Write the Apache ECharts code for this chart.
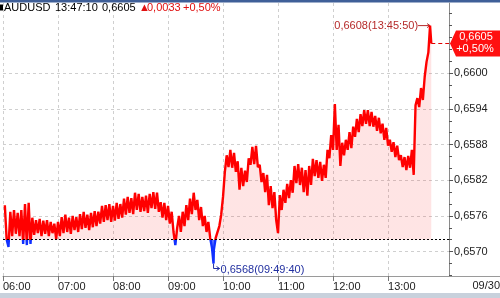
<!DOCTYPE html>
<html><head><meta charset="utf-8">
<script src="https://cdn.jsdelivr.net/npm/echarts@6/dist/echarts.min.js"></script>
<style>html,body{margin:0;padding:0;background:#fff;overflow:hidden}#c{width:500px;height:298px}</style>
</head><body><div id="c"></div>
<script>
// ---- data ----
const symbolName = 'AUDUSD';
const dateLabel = '09/30';
const prevClose = 0.6572;
const times = [
'06:02','06:04','06:06','06:08','06:10','06:12','06:14','06:16','06:18','06:20','06:22','06:24','06:26','06:28','06:30','06:32','06:34','06:36','06:38','06:40','06:42','06:44','06:46','06:48','06:50','06:52','06:54','06:56','06:58',
'07:00','07:02','07:04','07:06','07:08','07:10','07:12','07:14','07:16','07:18','07:20','07:22','07:24','07:26','07:28','07:30','07:32','07:34','07:36','07:38','07:40','07:42','07:44','07:46','07:48','07:50','07:52','07:54','07:56','07:58',
'08:00','08:02','08:04','08:06','08:08','08:10','08:12','08:14','08:16','08:18','08:20','08:22','08:24','08:26','08:28','08:30','08:32','08:34','08:36','08:38','08:40','08:42','08:44','08:46','08:48','08:50','08:52','08:54','08:56','08:58',
'09:00','09:02','09:04','09:06','09:08','09:10','09:12','09:14','09:16','09:18','09:20','09:22','09:24','09:26','09:28','09:30','09:32','09:34','09:36','09:38','09:40','09:42','09:44','09:46','09:48','09:49:40','09:50','09:52','09:54','09:56','09:58',
'10:00','10:02','10:04','10:06','10:08','10:10','10:12','10:14','10:16','10:18','10:20','10:22','10:24','10:26','10:28','10:30','10:32','10:34','10:36','10:38','10:40','10:42','10:44','10:46','10:48','10:50','10:52','10:54','10:56','10:58',
'11:00','11:02','11:04','11:06','11:08','11:10','11:12','11:14','11:16','11:18','11:20','11:22','11:24','11:26','11:28','11:30','11:32','11:34','11:36','11:38','11:40','11:42','11:44','11:46','11:48','11:50','11:52','11:54','11:56','11:58',
'12:00','12:02','12:04','12:06','12:08','12:10','12:12','12:14','12:16','12:18','12:20','12:22','12:24','12:26','12:28','12:30','12:32','12:34','12:36','12:38','12:40','12:42','12:44','12:46','12:48','12:50','12:52','12:54','12:56','12:58',
'13:00','13:02','13:04','13:06','13:08','13:10','13:12','13:14','13:16','13:18','13:20','13:22','13:24','13:26','13:28','13:30','13:32','13:34','13:36','13:38','13:40','13:42','13:44','13:45:50','13:47:10'
];
const prices = [
0.65778,0.65720,0.65708,0.65767,0.65726,0.65770,0.65730,0.65765,0.65726,0.65770,0.65713,0.65780,0.65711,0.65782,0.65713,0.65757,0.65728,0.65753,0.65731,0.65755,0.65726,0.65752,0.65730,0.65753,0.65726,0.65750,0.65731,0.65747,0.65721,
0.65750,0.65726,0.65758,0.65731,0.65762,0.65733,0.65757,0.65730,0.65760,0.65736,0.65758,0.65733,0.65763,0.65738,0.65767,0.65740,0.65762,0.65736,0.65765,0.65741,0.65768,0.65743,0.65767,0.65747,0.65777,0.65750,0.65778,0.65753,0.65780,0.65750,
0.65777,0.65752,0.65782,0.65755,0.65780,0.65757,0.65789,0.65762,0.65792,0.65765,0.65790,0.65763,0.65799,0.65770,0.65797,0.65767,0.65792,0.65768,0.65794,0.65765,0.65797,0.65773,0.65800,0.65772,0.65799,0.65767,0.65783,0.65757,0.65782,0.65753,
0.65777,0.65747,0.65767,0.65733,0.65711,0.65740,0.65760,0.65733,0.65767,0.65743,0.65778,0.65753,0.65789,0.65763,0.65799,0.65770,0.65787,0.65753,0.65775,0.65743,0.65760,0.65733,0.65750,0.65723,0.65706,0.65680,0.65703,0.65723,0.65726,0.65743,0.65762,
0.65792,0.65834,0.65862,0.65842,0.65871,0.65841,0.65866,0.65834,0.65852,0.65804,0.65841,0.65810,0.65836,0.65817,0.65857,0.65846,0.65876,0.65847,0.65878,0.65842,0.65846,0.65817,0.65832,0.65800,0.65829,0.65778,0.65810,0.65773,0.65800,0.65753,
0.65731,0.65795,0.65770,0.65804,0.65782,0.65814,0.65790,0.65820,0.65799,0.65844,0.65815,0.65847,0.65812,0.65841,0.65800,0.65837,0.65794,0.65844,0.65812,0.65856,0.65827,0.65854,0.65824,0.65851,0.65819,0.65846,0.65824,0.65871,0.65857,0.65896,
0.65871,0.65948,0.65871,0.65913,0.65844,0.65883,0.65862,0.65888,0.65871,0.65901,0.65874,0.65910,0.65893,0.65923,0.65901,0.65931,0.65911,0.65938,0.65915,0.65938,0.65911,0.65935,0.65910,0.65928,0.65903,0.65925,0.65899,0.65915,0.65888,0.65908,
0.65878,0.65888,0.65868,0.65884,0.65859,0.65878,0.65854,0.65862,0.65842,0.65859,0.65837,0.65861,0.65841,0.65871,0.65829,0.65946,0.65958,0.65943,0.65975,0.65955,0.65994,0.66019,0.66035,0.66080,0.66050
];
const xTickLabels = ['06:00','07:00','08:00','09:00','10:00','11:00','12:00','13:00'];
const yTickLabels = [0.6570, 0.6576, 0.6582, 0.6588, 0.6594, 0.6600];
const yMinorTicks = [0.6566,0.6568,0.6570,0.6572,0.6574,0.6576,0.6578,0.6580,0.6582,0.6584,0.6586,0.6588,0.6590,0.6592,0.6594,0.6596,0.6598,0.6600,0.6602,0.6604,0.6606,0.6608,0.6610];

// ---- helpers ----
const FONT = '"Liberation Sans",Arial,sans-serif';
const FS = 11;
const toMin = t => { const p = t.split(':').map(Number); return p[0]*60 + p[1] + (p[2]||0)/60; };
const fmt = v => v.toFixed(4).replace('.', ',');
const n = Math.min(times.length, prices.length);
const seriesData = [];
for (let i = 0; i < n; i++) seriesData.push([toMin(times[i]), prices[i]]);
const xTickValues = xTickLabels.map(toMin);
const xMin = 360, xMax = 846.5;
const yMin = 0.65659, yMax = 0.66118;

let iMax = 0, iMin = 0;
for (let i = 0; i < n; i++) { if (prices[i] > prices[iMax]) iMax = i; if (prices[i] < prices[iMin]) iMin = i; }
const last = prices[n-1];
const chg = last - prevClose;
const pct = chg / prevClose * 100;
const pctTxt = (pct >= 0 ? '+' : '-') + Math.abs(pct).toFixed(2).replace('.', ',') + '%';

const chart = echarts.init(document.getElementById('c'), null, {renderer: 'canvas'});
chart.setOption({
  animation: false,
  grid: {left: -2.4, right: 51, top: 3, bottom: 22},
  xAxis: {
    type: 'value', min: xMin, max: xMax,
    axisLine: {show: true, lineStyle: {color: '#9a9a9a', width: 1}},
    axisTick: {show: true, length: 5, customValues: xTickValues, lineStyle: {color: '#777'}},
    axisLabel: {customValues: xTickValues, align: 'left', margin: 5, fontFamily: FONT, fontSize: FS, color: '#222',
      formatter: v => { let k = -1; xTickValues.forEach((t, j) => { if (Math.abs(t - v) < 1e-6) k = j; }); return k >= 0 ? xTickLabels[k] : ''; }},
    splitLine: {show: true, lineStyle: {color: '#cfcfcf', type: [3, 3], width: 1}}
  },
  yAxis: [{
    type: 'value', position: 'right', min: yMin, max: yMax, scale: true,
    axisLine: {show: true, lineStyle: {color: '#8a8a8a'}},
    axisTick: {show: true, length: 4, customValues: yTickLabels, lineStyle: {color: '#555'}},
    axisLabel: {customValues: yTickLabels, margin: 5, fontFamily: FONT, fontSize: FS, color: '#222', formatter: v => fmt(v)},
    splitLine: {show: true, lineStyle: {color: '#cfcfcf', type: [3, 3], width: 1}}
  }, {
    type: 'value', position: 'right', min: yMin, max: yMax, scale: true,
    axisLine: {show: false},
    axisTick: {show: true, length: 3, customValues: yMinorTicks, lineStyle: {color: '#555'}},
    axisLabel: {show: false},
    splitLine: {show: false}
  }],
  series: [{
    type: 'line', data: seriesData, showSymbol: false, symbol: 'none', yAxisIndex: 0,
    lineStyle: {width: 2.4, color: '#ff0000'},
    areaStyle: {color: 'rgba(255,0,0,0.15)', origin: 'start'}
  }]
});

// colour split at previous close (red above, blue below), computed from the axis scale
const P = v => chart.convertToPixel({xAxisIndex: 0, yAxisIndex: 0}, v);
const yTopPx = P([xMin, yMax])[1];
const yBotPx = P([xMin, yMin])[1];
const yBasePx = P([xMin, prevClose])[1];
const r = (yBasePx - yTopPx) / (yBotPx - yTopPx);
const LG = echarts.graphic.LinearGradient;
const lineGrad = new LG(0, yTopPx, 0, yBotPx, [
  {offset: 0, color: '#ff0000'}, {offset: r, color: '#ff0000'},
  {offset: r, color: '#1030ff'}, {offset: 1, color: '#1030ff'}], true);
const areaGrad = new LG(0, yTopPx, 0, yBotPx, [
  {offset: 0, color: 'rgba(255,0,0,0.15)'}, {offset: r, color: 'rgba(255,0,0,0.15)'},
  {offset: r, color: '#1030ff'}, {offset: 1, color: '#1030ff'}], true);

chart.setOption({
  series: [{
    lineStyle: {width: 2.4, color: lineGrad},
    areaStyle: {color: areaGrad, origin: prevClose},
    markLine: {
      silent: true, symbol: ['none', 'none'], animation: false,
      label: {show: false},
      data: [
        [{coord: [xMin, prevClose], lineStyle: {color: '#000', type: [2, 2], width: 1}}, {coord: [xMax, prevClose]}],
        [{coord: [seriesData[n-1][0], last], lineStyle: {color: '#e00000', type: [4, 3], width: 1.2}}, {coord: [xMax, last]}]
      ]
    }
  }]
});

// ---- annotations / decorations ----
const pMax = P(seriesData[iMax]);
const pMin = P(seriesData[iMin]);
const pLast = P(seriesData[n-1]);
const axisX = P([xMax, last])[0];
const axisY = yBotPx;
const redTxt = '#e01010';
const F = FS + 'px ' + FONT;
const g = [];
g.push({type: 'rect', shape: {x: 0, y: 0, width: 500, height: 2.5}, style: {fill: '#3f5f98'}, silent: true});
g.push({type: 'rect', shape: {x: 0, y: 293, width: 500, height: 5}, style: {fill: '#c8d1dc'}, silent: true});
g.push({type: 'line', shape: {x1: axisX, y1: axisY + 0.5, x2: 500, y2: axisY + 0.5}, style: {stroke: '#9a9a9a', lineWidth: 1}, silent: true});
g.push({type: 'rect', shape: {x: 0, y: 4.5, width: 3, height: 6}, style: {fill: '#000'}, silent: true});
const hdr = (x, text, fill) => g.push({type: 'text', x: x, y: 8, style: {text: text, fill: fill, font: F, textVerticalAlign: 'middle', textAlign: 'left'}, silent: true});
hdr(4, symbolName, '#000');
hdr(55, times[n-1], '#000');
hdr(102, fmt(last), '#000');
hdr(139, '\u25B2', redTxt);
hdr(147, fmt(Math.abs(chg)), redTxt);
hdr(183, pctTxt, redTxt);
g.push({type: 'text', x: 500, y: 286, style: {text: dateLabel, fill: '#222', font: F, textAlign: 'right', textVerticalAlign: 'middle'}, silent: true});
const maxC = '#b52a2a';
g.push({type: 'polyline', shape: {points: [[pMax[0] - 12, pMax[1]], [pMax[0], pMax[1]]]}, style: {stroke: maxC, lineWidth: 1}, silent: true});
g.push({type: 'polyline', shape: {points: [[pMax[0] - 3, pMax[1] - 2], [pMax[0], pMax[1]], [pMax[0] - 3, pMax[1] + 2]]}, style: {stroke: maxC, lineWidth: 1, fill: 'none'}, silent: true});
g.push({type: 'text', x: pMax[0] - 12, y: pMax[1] + 0.5, style: {text: fmt(prices[iMax]) + '(' + times[iMax] + ')', fill: maxC, font: F, textAlign: 'right', textVerticalAlign: 'middle'}, silent: true});
const minC = '#2230a0';
g.push({type: 'polyline', shape: {points: [[pMin[0], pMin[1]], [pMin[0], pMin[1] + 5], [pMin[0] + 6, pMin[1] + 5]]}, style: {stroke: minC, lineWidth: 1, fill: 'none'}, silent: true});
g.push({type: 'polyline', shape: {points: [[pMin[0] + 3, pMin[1] + 3], [pMin[0] + 6, pMin[1] + 5], [pMin[0] + 3, pMin[1] + 7]]}, style: {stroke: minC, lineWidth: 1, fill: 'none'}, silent: true});
g.push({type: 'text', x: pMin[0] + 7, y: pMin[1] + 6, style: {text: fmt(prices[iMin]) + '(' + times[iMin] + ')', fill: minC, font: F, textAlign: 'left', textVerticalAlign: 'middle'}, silent: true});
const ty = pLast[1];
g.push({type: 'polygon', shape: {points: [[axisX + 1, ty], [axisX + 7, ty - 13], [500, ty - 13], [500, ty + 13], [axisX + 7, ty + 13]]}, style: {fill: '#ff1010'}, silent: true});
g.push({type: 'text', x: 476, y: ty - 6, style: {text: fmt(last), fill: '#fff', font: F, textAlign: 'center', textVerticalAlign: 'middle'}, silent: true});
g.push({type: 'text', x: 475, y: ty + 6, style: {text: pctTxt, fill: '#fff', font: F, textAlign: 'center', textVerticalAlign: 'middle'}, silent: true});
chart.setOption({graphic: g});
</script></body></html>
